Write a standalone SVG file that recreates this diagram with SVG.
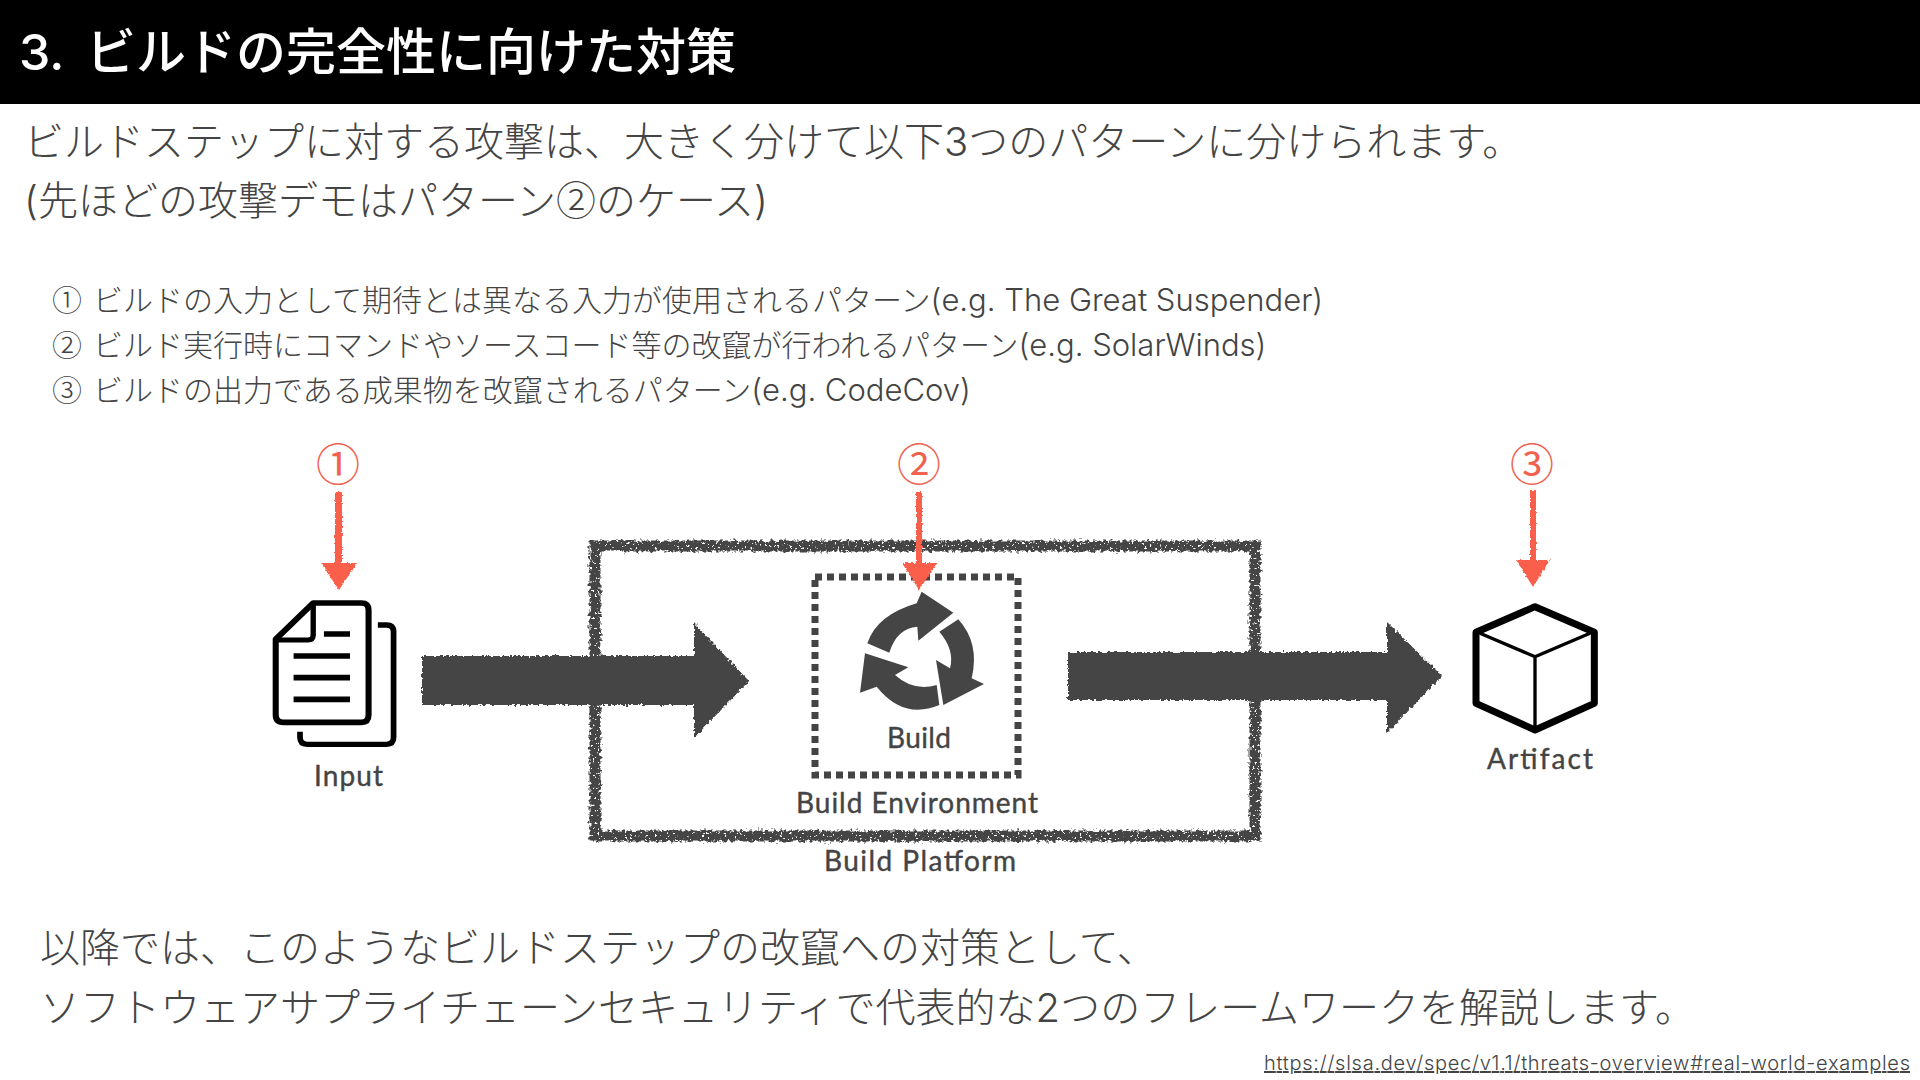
<svg xmlns="http://www.w3.org/2000/svg" width="1920" height="1080" viewBox="0 0 1920 1080">
<style>
text{font-family:"Inter","Noto Sans CJK JP","Noto Sans",sans-serif}
.c{font-family:"Noto Sans CJK JP",sans-serif}
.u{font-size:31px}
.b{font-size:40px;fill:#444;font-weight:300}
.i{font-size:30px;fill:#444;font-weight:300}
.l{font-family:"Lato","Noto Sans",sans-serif;font-size:28px;fill:#444;font-weight:400;stroke:#444;stroke-width:.4}
.n{font-family:"Noto Sans CJK JP",sans-serif;font-size:44px;fill:#f0614f;text-anchor:middle}
.d{fill:none;stroke:#000;stroke-linecap:butt;stroke-linejoin:round}
.g{fill:#444}
.r{fill:#fa5f4b;stroke:none}
</style>
<defs>
<filter id="rough" x="-5%" y="-5%" width="110%" height="110%">
<feTurbulence type="fractalNoise" baseFrequency="0.3" numOctaves="2" seed="4" result="n"/>
<feDisplacementMap in="SourceGraphic" in2="n" scale="7" xChannelSelector="R" yChannelSelector="G" result="d"/>
<feTurbulence type="fractalNoise" baseFrequency="0.4" numOctaves="2" seed="11"/>
<feColorMatrix type="matrix" values="0 0 0 0 0 0 0 0 0 0 0 0 0 0 0 0 0 0 -16 11.4" result="m"/>
<feComposite in="d" in2="m" operator="in"/>
</filter>
<filter id="chalk" x="-5%" y="-5%" width="110%" height="110%">
<feTurbulence type="fractalNoise" baseFrequency="0.35" numOctaves="2" seed="4" result="n"/>
<feDisplacementMap in="SourceGraphic" in2="n" scale="5" xChannelSelector="R" yChannelSelector="G"/>
</filter>
<filter id="chalkS" x="-20%" y="-5%" width="140%" height="110%">
<feTurbulence type="fractalNoise" baseFrequency="0.5" numOctaves="2" seed="9" result="n"/>
<feDisplacementMap in="SourceGraphic" in2="n" scale="3" xChannelSelector="R" yChannelSelector="G"/>
</filter>
</defs>
<rect width="1920" height="1080" fill="#fff"/>
<g id="header">
<rect width="1920" height="104" fill="#000"/>
<text x="19" y="70" font-size="50" font-weight="500" fill="#fff">3.<tspan x="86">ビルドの完全性に向けた対策</tspan></text>
</g>
<g id="intro">
<text class="b" x="24" y="156">ビルドステップに対する攻撃は、大きく分けて以下3つのパターンに分けられます。</text>
<text class="b" x="24" y="215">(先ほどの攻撃デモはパターン<tspan class="c">②</tspan>のケース)</text>
</g>
<g id="patterns">
<text class="i" x="52" y="311"><tspan class="c">①</tspan><tspan x="93">ビルドの入力として期待とは異なる入力が使用されるパターン</tspan><tspan class="u">(e.g. The Great Suspender)</tspan></text>
<text class="i" x="52" y="356"><tspan class="c">②</tspan><tspan x="93">ビルド実行時にコマンドやソースコード等の改竄が行われるパターン</tspan><tspan class="u">(e.g. SolarWinds)</tspan></text>
<text class="i" x="52" y="401"><tspan class="c">③</tspan><tspan x="93">ビルドの出力である成果物を改竄されるパターン</tspan><tspan class="u">(e.g. CodeCov)</tspan></text>
</g>
<g id="build-platform">
<rect x="595" y="546" width="660" height="290" fill="none" stroke="#444" stroke-width="11" filter="url(#rough)"/>
<text class="l" x="824" y="871" textLength="192">Build Platform</text>
</g>
<g id="build-environment">
<rect x="815" y="577" width="203" height="198" fill="none" stroke="#444" stroke-width="7" stroke-dasharray="7 5"/>
<text class="l" x="796" y="813" textLength="242">Build Environment</text>
</g>
<g id="build">
<g transform="translate(780 430) scale(.33333)" class="g" filter="url(#chalkS)">
<path d="M262 640Q290 555 410 520L425 485L520 548L415 632L412 590Q350 595 328 668Z"/>
<path d="M535 568Q600 640 575 745L612 762L490 825L468 690L510 715Q525 660 478 605Z"/>
<path d="M478 825Q370 870 290 770L240 788L255 670L385 712L345 735Q400 785 470 765Z"/>
</g>
<text class="l" x="887" y="748" textLength="64">Build</text>
</g>
<g id="input">
<g transform="translate(240 430) scale(.35714 .33333)">
<path class="d" stroke-width="17" d="M205 519H340Q360 519 360 540V855Q360 877 340 877H122Q100 877 100 855V628Z"/>
<path class="d" stroke-width="15" d="M205 519V615Q205 630 190 630H100"/>
<path class="d" stroke-width="17" d="M235 612H308M150 678H308M150 743H308M150 808H308"/>
<path class="d" stroke-width="16" d="M386 585H410Q430 585 430 605V922Q430 943 410 943H188Q168 943 168 922V905"/>
</g>
<text class="l" x="314" y="786" textLength="69">Input</text>
</g>
<g id="artifact">
<g transform="translate(1280 430) scale(.33333)">
<path class="d" stroke-width="21" d="M765 530L943 607V820L765 900L588 820V607Z"/>
<path class="d" stroke-width="10" d="M600 610L765 680L930 610M765 680V900"/>
</g>
<text class="l" x="1487" y="769" textLength="106">Artifact</text>
</g>
<g id="connectors">
<path class="g" filter="url(#chalk)" d="M422 656H694V623L749 681L694 738V705H422Z"/>
<path class="g" filter="url(#chalk)" d="M1068 652H1387V622L1442 676L1387 733V700H1068Z"/>
<g filter="url(#chalkS)">
<path class="r" d="M335 492H342V563H357L339 590L321 563H335Z"/>
<path class="r" d="M916 492H922V563H937L919 590L902 563H916Z"/>
<path class="r" d="M1530 490H1536V560H1550L1533 587L1516 560H1530Z"/>
</g>
</g>
<g id="markers">
<text class="n" x="338" y="481">①</text>
<text class="n" x="919" y="481">②</text>
<text class="n" x="1532" y="481">③</text>
</g>
<g id="closing">
<text class="b" x="40" y="962">以降では、このようなビルドステップの改竄への対策として、</text>
<text class="b" x="40" y="1022">ソフトウェアサプライチェーンセキュリティで代表的な2つのフレームワークを解説します。</text>
</g>
<g id="source">
<text x="1264" y="1070" font-size="20" fill="#444" font-weight="300" text-decoration="underline" textLength="646">https://slsa.dev/spec/v1.1/threats-overview#real-world-examples</text>
</g>
</svg>
